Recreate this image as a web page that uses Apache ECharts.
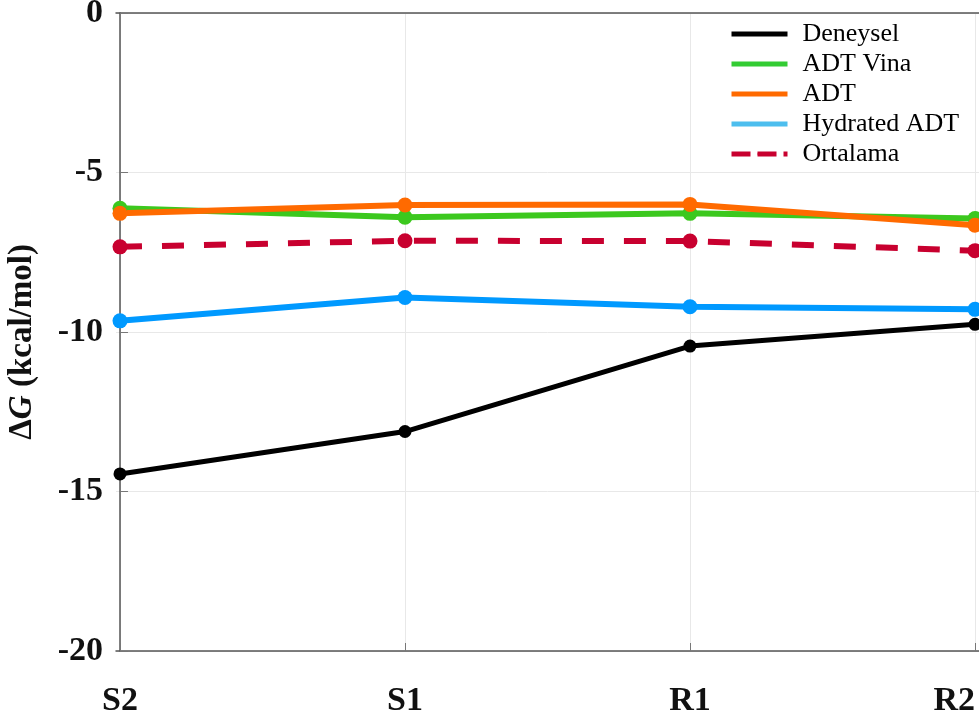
<!DOCTYPE html>
<html>
<head>
<meta charset="utf-8">
<script src="https://cdn.jsdelivr.net/npm/echarts@6/dist/echarts.min.js"></script>
<style>
  html, body { margin: 0; padding: 0; background: #fff; }
  #chart { width: 979px; height: 722px; }
</style>
</head>
<body>
<div id="chart"></div>
<script>
// Docking binding free energies per site
const categories = ['S2', 'S1', 'R1', 'R2'];
const deneysel = [-14.45, -13.12, -10.44, -9.76];
const adtVina = [-6.12, -6.40, -6.28, -6.44];
const adt = [-6.28, -6.02, -6.00, -6.65];
const hydratedAdt = [-9.65, -8.92, -9.21, -9.29];
const ortalama = [-7.33, -7.14, -7.15, -7.45];
const yTicks = [0, -5, -10, -15, -20];

const serif = '"Liberation Serif", "Times New Roman", serif';
const pts = arr => arr.map((v, i) => [i, v]);

function lineSeries(name, values, color, width, size, dash) {
  return {
    name, type: 'line', data: pts(values),
    symbol: 'circle', symbolSize: size,
    lineStyle: { color, width, type: dash || 'solid', cap: 'butt' },
    itemStyle: { color },
    emphasis: { disabled: true },
    animation: false
  };
}

function legendItem(name, color, dash) {
  return {
    name,
    lineStyle: { color, width: 5, type: dash || 'solid' },
    itemStyle: { color }
  };
}

const chart = echarts.init(document.getElementById('chart'), null, { renderer: 'canvas' });
chart.setOption({
  backgroundColor: '#fff',
  animation: false,
  grid: { left: 116, right: 0, top: 13, bottom: 71, containLabel: false, outerBoundsMode: 'none' },
  legend: {
    left: 729, top: 21, orient: 'vertical', padding: 0,
    itemWidth: 56, itemHeight: 5, itemGap: 4,
    textStyle: { fontFamily: serif, fontSize: 26, color: '#000', padding: [0, 0, 0, 10] },
    data: [
      legendItem('Deneysel', '#000000'),
      legendItem('ADT Vina', '#33cc33'),
      legendItem('ADT', '#ff6a00'),
      legendItem('Hydrated ADT', '#4dbeee'),
      legendItem('Ortalama', '#c8002f', [19, 7])
    ]
  },
  xAxis: [{
    type: 'value', min: -0.014, max: 3.014,
    axisLine: { show: true, onZero: false, lineStyle: { color: '#555', width: 1.5 } },
    axisTick: { show: true, inside: true, length: 8, customValues: [0, 1, 2, 3], lineStyle: { color: '#777' } },
    axisLabel: {
      customValues: [0, 1, 2, 3], margin: 33,
      alignMaxLabel: 'right',
      formatter: v => categories[Math.round(v)],
      fontFamily: serif, fontWeight: 'bold', fontSize: 34, color: '#111'
    },
    splitLine: { show: true, lineStyle: { color: '#e8e8e8', width: 1 } }
  }, {
    type: 'value', position: 'top', min: -0.014, max: 3.014,
    axisLine: { show: true, onZero: false, lineStyle: { color: '#555', width: 1.5 } },
    axisTick: { show: false }, axisLabel: { show: false }, splitLine: { show: false }
  }],
  yAxis: {
    type: 'value', min: -20, max: 0, interval: 5,
    name: '{d|Δ}{g|G}{d| (kcal/mol)}',
    nameLocation: 'middle', nameRotate: 90, nameGap: 77,
    nameTextStyle: {
      padding: [0, 20, 0, 0],
      rich: {
        d: { fontFamily: serif, fontWeight: 'bold', fontSize: 33, color: '#111' },
        g: { fontFamily: serif, fontWeight: 'bold', fontStyle: 'italic', fontSize: 33, color: '#111' }
      }
    },
    axisLine: { show: true, lineStyle: { color: '#555', width: 1.5 } },
    axisTick: { show: true, inside: true, length: 8, lineStyle: { color: '#777' } },
    axisLabel: {
      margin: 13, formatter: v => String(v),
      fontFamily: serif, fontWeight: 'bold', fontSize: 34, color: '#111'
    },
    splitLine: { show: true, lineStyle: { color: '#e8e8e8', width: 1 } }
  },
  series: [
    lineSeries('Deneysel', deneysel, '#000000', 5, 13),
    lineSeries('ADT Vina', adtVina, '#3cc81e', 6, 15),
    lineSeries('ADT', adt, '#ff6a00', 6, 15),
    lineSeries('Hydrated ADT', hydratedAdt, '#0099ff', 6, 15),
    lineSeries('Ortalama', ortalama, '#c8002f', 6, 15, [22, 20])
  ]
});
</script>
</body>
</html>
